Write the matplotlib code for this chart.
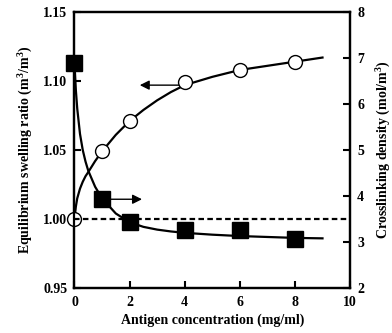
import numpy as np
import matplotlib
matplotlib.use("Agg")
import matplotlib.pyplot as plt

plt.rcParams['font.family'] = ['Liberation Serif', 'DejaVu Serif']
plt.rcParams['font.weight'] = 'bold'
plt.rcParams['mathtext.default'] = 'regular'

# measured points
conc = [0, 1, 2, 4, 6, 8]
swelling = [1.000, 1.049, 1.071, 1.099, 1.108, 1.114]
crosslink = [6.89, 3.93, 3.43, 3.26, 3.26, 3.07]

# fitted curves
fit_x = [0, 0.05, 0.1, 0.2, 0.3, 0.4, 0.5, 0.75, 1, 1.5, 2, 2.5, 3, 3.5, 4, 5, 6, 7, 8, 9]
fit_swelling = [1.000, 1.009, 1.015, 1.022, 1.027, 1.031, 1.034, 1.042, 1.049, 1.061,
                1.071, 1.079, 1.086, 1.092, 1.097, 1.103, 1.108, 1.111, 1.114, 1.117]
fit_crosslink = [6.89, 6.3, 5.9, 5.35, 5.0, 4.75, 4.55, 4.2, 3.95, 3.62,
                 3.43, 3.33, 3.27, 3.23, 3.2, 3.16, 3.13, 3.11, 3.09, 3.08]

fig = plt.figure(figsize=(3.92, 3.33), dpi=100)
ax = fig.add_axes([0.190, 0.135, 0.703, 0.829])
ax2 = ax.twinx()

# baseline
ax.plot([0, 10], [1.0, 1.0], color='black', lw=1.6, ls=(0, (2.5, 1.5)), zorder=6)

ax.plot(fit_x, fit_swelling, color='black', lw=1.6, zorder=3)
ax.plot(conc, swelling, 'o', ms=10, mfc='white', mec='black', mew=1.0,
        clip_on=False, zorder=5)

ax2.plot(fit_x, fit_crosslink, color='black', lw=1.6, zorder=3)
ax2.plot(conc, crosslink, 's', ms=11, color='black', clip_on=False, zorder=5)

# arrows pointing at the axis of each series
ax.annotate('', xy=(2.37, 1.097), xytext=(4.0, 1.097),
            arrowprops=dict(arrowstyle='-|>', color='black', lw=1.0,
                            mutation_scale=14, shrinkA=0, shrinkB=0))
ax2.annotate('', xy=(2.45, 3.93), xytext=(1.0, 3.93),
             arrowprops=dict(arrowstyle='-|>', color='black', lw=1.0,
                             mutation_scale=14, shrinkA=0, shrinkB=0))

ax.set_xlim(0, 10)
ax.set_ylim(0.95, 1.15)
ax2.set_ylim(2, 8)
ax.set_xticks([0, 2, 4, 6, 8, 10])
ax.set_yticks([0.95, 1.00, 1.05, 1.10, 1.15])
ax.set_yticklabels(['0.95', '1.00', '1.05', '1.10', '1.15'])
ax2.set_yticks([2, 3, 4, 5, 6, 7, 8])

for a in (ax, ax2):
    a.tick_params(direction='in', length=5, width=1.5, labelsize=10, pad=5)
    for s in a.spines.values():
        s.set_linewidth(1.6)
ax.tick_params(axis='x', pad=6)

ax.set_xlabel('Antigen concentration (mg/ml)', fontsize=10, fontweight='bold', labelpad=3)
ax.set_ylabel('Equilibrium swelling ratio (m$^3$/m$^3$)', fontsize=10,
              fontweight='bold', labelpad=6)
ax2.set_ylabel('Crosslinking density (mol/m$^3$)', fontsize=10,
               fontweight='bold', labelpad=8)

fig.savefig('out.png', dpi=100)
